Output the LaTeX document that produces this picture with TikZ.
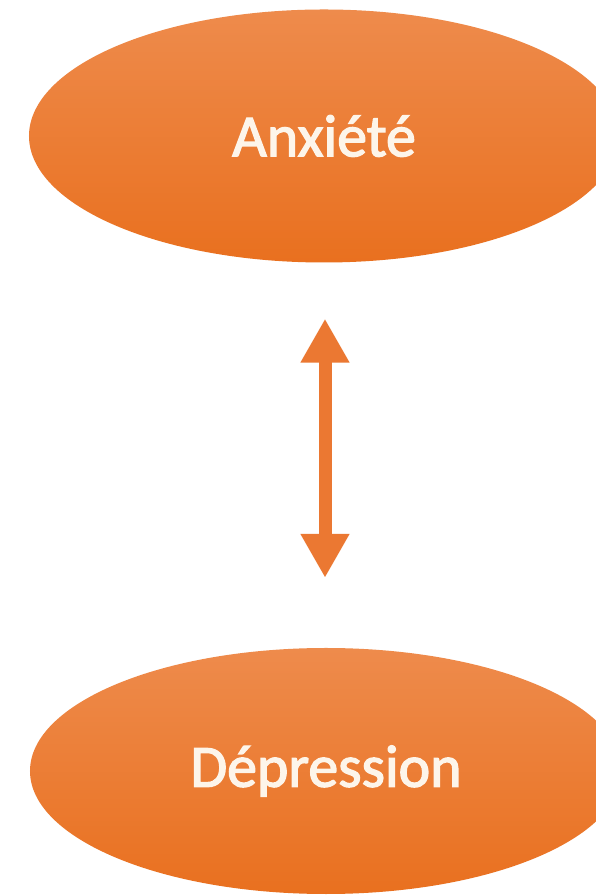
\documentclass[tikz,border=0pt]{standalone}
\usepackage{fontspec}
\setmainfont{Carlito}
\newfontfamily\semib{Carlito}[UprightFeatures={FakeBold=2.2}]
\usetikzlibrary{shapes.geometric,arrows.meta}
\definecolor{oraTop}{HTML}{EE8B4C}
\definecolor{oraBot}{HTML}{E9701F}
\definecolor{oraArrow}{HTML}{EB7832}
\definecolor{txtc}{HTML}{FDF5EA}
\tikzset{
  bubble/.style={ellipse, inner sep=0pt, top color=oraTop, bottom color=oraBot,
    draw=none, text=txtc, font=\semib\fontsize{60}{70}\selectfont},
  link/.style={draw=oraArrow, line width=13bp,
    {Triangle[width=46bp,length=44bp]}-{Triangle[width=46bp,length=44bp]}}
}
\begin{document}
\begin{tikzpicture}[x=1bp,y=1bp]
\useasboundingbox (0,0) rectangle (596,895);
\clip (0,0) rectangle (596,895);
\fill[white] (0,0) rectangle (596,895);
\node[bubble, minimum width=590bp, minimum height=253bp] (anx) at (324,759) {Anxiété};
\node[bubble, minimum width=592bp, minimum height=246bp] (dep) at (326,124) {Dépression};
\draw[link, shorten <=56bp, shorten >=70bp] ([xshift=1bp]anx.south) -- ([xshift=-1bp]dep.north);
\end{tikzpicture}
\end{document}
